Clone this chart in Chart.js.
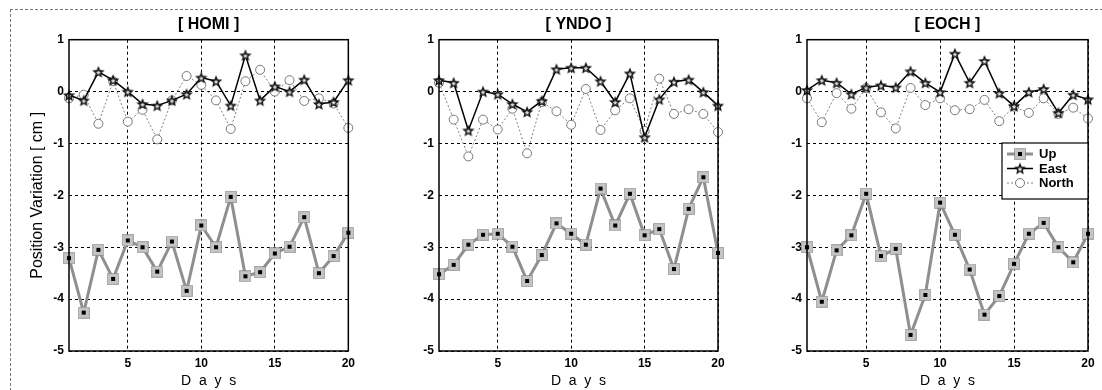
<!DOCTYPE html>
<html>
<head>
<meta charset="utf-8">
<script src="https://cdn.jsdelivr.net/npm/chart.js@4.4.0/dist/chart.umd.min.js"></script>
<style>
  body { margin: 0; background: #fff; }
  #frame { position: absolute; left: 10px; top: 9px; width: 1092px; height: 381px;
           border-top: 1px dashed #777; border-left: 1px dashed #777; }
  canvas { position: absolute; top: 0; }
</style>
</head>
<body>
<div id="frame"></div>
<canvas id="homi" width="360" height="390" style="left:0px"></canvas>
<canvas id="yndo" width="370" height="390" style="left:360px"></canvas>
<canvas id="eoch" width="372" height="390" style="left:730px"></canvas>
<script>
// Data
const days = [1, 2, 3, 4, 5, 6, 7, 8, 9, 10, 11, 12, 13, 14, 15, 16, 17, 18, 19, 20];
const dayTicks = [5, 10, 15, 20];
const seriesNames = ["Up", "East", "North"];

// ::::: HOMI :::::
const homiUp = [-3.21, -4.26, -3.05, -3.61, -2.87, -3.0, -3.47, -2.89, -3.84, -2.58, -3.0, -2.03, -3.56, -3.48, -3.12, -2.99, -2.42, -3.5, -3.17, -2.72];
const homiEast = [-0.07, -0.17, 0.38, 0.22, 0.0, -0.24, -0.27, -0.17, -0.05, 0.27, 0.2, -0.27, 0.7, -0.17, 0.1, 0.0, 0.23, -0.24, -0.2, 0.22];
const homiNorth = [-0.13, -0.06, -0.62, 0.2, -0.58, -0.35, -0.92, -0.17, 0.3, 0.13, -0.17, -0.72, 0.2, 0.42, 0.0, 0.22, -0.18, -0.13, -0.23, -0.7];

// ::::: YNDO :::::
const yndoUp = [-3.52, -3.34, -2.95, -2.76, -2.74, -2.99, -3.65, -3.15, -2.54, -2.74, -2.95, -1.87, -2.58, -1.97, -2.77, -2.65, -3.42, -2.26, -1.65, -3.11];
const yndoEast = [0.22, 0.17, -0.75, 0.0, -0.05, -0.24, -0.39, -0.18, 0.43, 0.46, 0.46, 0.2, -0.2, 0.35, -0.88, -0.15, 0.19, 0.23, -0.01, -0.27];
const yndoNorth = [0.17, -0.54, -1.25, -0.54, -0.73, -0.33, -1.19, -0.2, -0.38, -0.64, 0.05, -0.74, -0.36, -0.13, -0.76, 0.25, -0.43, -0.34, -0.43, -0.78];

// ::::: EOCH :::::
const eochUp = [-3.0, -4.05, -3.06, -2.77, -1.97, -3.17, -3.03, -4.69, -3.92, -2.14, -2.76, -3.43, -4.3, -3.94, -3.32, -2.74, -2.53, -3.0, -3.29, -2.74];
const eochEast = [0.03, 0.22, 0.17, -0.05, 0.08, 0.12, 0.08, 0.39, 0.17, -0.01, 0.73, 0.17, 0.59, -0.03, -0.28, -0.01, 0.05, -0.41, -0.06, -0.15];
const eochNorth = [-0.13, -0.59, -0.03, -0.33, 0.07, -0.4, -0.71, 0.07, -0.26, -0.13, -0.36, -0.34, -0.16, -0.57, -0.29, -0.41, -0.13, -0.43, -0.31, -0.52];

const FONT = "'Liberation Sans', Arial, sans-serif";


// THE MARKERS
function makeUpMarker() {
    const c = document.createElement("canvas");
    c.width = 12; c.height = 12;
    const g = c.getContext("2d");
    g.fillStyle = "#c4c4c4";
    g.fillRect(0.5, 0.5, 11, 11);
    g.strokeStyle = "#6e6e6e";
    g.setLineDash([1, 1]);
    g.strokeRect(0.5, 0.5, 11, 11);
    g.fillStyle = "#000";
    g.fillRect(4, 4, 4, 4);
    return c;
}

function starPath(g, cx, cy, outer, inner) {
    g.beginPath();
    for (let i = 0; i < 10; i++) {
        const r = i % 2 === 0 ? outer : inner;
        const a = -Math.PI / 2 + i * Math.PI / 5;
        g.lineTo(cx + r * Math.cos(a), cy + r * Math.sin(a));
    }
    g.closePath();
}

function makeStarMarker() {
    const c = document.createElement("canvas");
    c.width = 14; c.height = 14;
    const g = c.getContext("2d");
    starPath(g, 7, 7.5, 6.5, 2.9);
    g.fillStyle = "#111";
    g.fill();
    starPath(g, 7, 7.8, 2.6, 1.2);
    g.fillStyle = "#ddd";
    g.fill();
    return c;
}

const upMarker = makeUpMarker();
const starMarker = makeStarMarker();

// frame around the plot area (solid, like matlab axes box)
const boxPlugin = {
    id: "box",
    afterDraw(chart) {
        const a = chart.chartArea;
        const ctx = chart.ctx;
        ctx.save();
        ctx.strokeStyle = "#000";
        ctx.lineWidth = 1.5;
        ctx.strokeRect(a.left, a.top, a.right - a.left, a.bottom - a.top);
        ctx.restore();
    }
};

// legend drawn inside the EOCH axes
const insideLegend = {
    id: "insideLegend",
    afterDraw(chart) {
        const ctx = chart.ctx;
        const x = 272, y = 143, w = 86, h = 56;
        ctx.save();
        ctx.fillStyle = "#fff";
        ctx.fillRect(x, y, w, h);
        ctx.strokeStyle = "#000";
        ctx.lineWidth = 1.2;
        ctx.strokeRect(x, y, w, h);
        chart.data.datasets.forEach((ds, i) => {
            const ry = y + 11 + i * 14.5;
            ctx.strokeStyle = ds.borderColor;
            ctx.lineWidth = ds.borderWidth;
            ctx.setLineDash(ds.borderDash || []);
            ctx.beginPath();
            ctx.moveTo(x + 5, ry);
            ctx.lineTo(x + 31, ry);
            ctx.stroke();
            ctx.setLineDash([]);
            if (ds.pointStyle === "circle") {
                ctx.beginPath();
                ctx.arc(x + 18, ry, 4.5, 0, Math.PI * 2);
                ctx.fillStyle = "#fff";
                ctx.fill();
                ctx.strokeStyle = "#777";
                ctx.lineWidth = 1;
                ctx.stroke();
            } else {
                const img = ds.pointStyle;
                ctx.drawImage(img, x + 18 - img.width / 2, ry - img.height / 2);
            }
            ctx.fillStyle = "#000";
            ctx.font = "bold 13px " + FONT;
            ctx.textBaseline = "middle";
            ctx.fillText(ds.label, x + 37, ry + 0.5);
        });
        ctx.restore();
    }
};

function createPanel(canvasId, name, up, east, north, axisWidth, padRight, showYTitle, withLegend) {
    const canvas = document.getElementById(canvasId);
    return new Chart(canvas, {
        type: "line",
        data: {
            labels: days,
            datasets: [{
                label: seriesNames[0],
                data: up,
                clip: false,
                borderColor: "#8f8f8f",
                borderWidth: 3,
                pointStyle: upMarker,
                pointRadius: 6
            }, {
                label: seriesNames[1],
                data: east,
                clip: false,
                borderColor: "#000",
                borderWidth: 1.5,
                pointStyle: starMarker,
                pointRadius: 7
            }, {
                label: seriesNames[2],
                data: north,
                clip: false,
                borderColor: "#808080",
                borderWidth: 1,
                borderDash: [2, 2],
                pointStyle: "circle",
                pointRadius: 4.5,
                pointBackgroundColor: "#fff",
                pointBorderColor: "#777",
                pointBorderWidth: 1
            }]
        },
        options: {
            responsive: false,
            animation: false,
            parsing: false,
            layout: { padding: { left: 0, right: padRight, top: 0, bottom: 0 } },
            scales: {
                x: {
                    type: "linear",
                    min: 1,
                    max: 20,
                    afterBuildTicks: (scale) => { scale.ticks = dayTicks.map(v => ({ value: v })); },
                    afterFit: (scale) => { scale.height = 39; },
                    grid: { color: "#000", lineWidth: 1, drawTicks: false },
                    border: { display: false, dash: [3, 3] },
                    ticks: {
                        color: "#000",
                        padding: 5,
                        maxRotation: 0,
                        font: { family: FONT, size: 12, weight: "bold" }
                    },
                    title: {
                        display: true,
                        text: "D  a  y  s",
                        color: "#000",
                        padding: { top: 0, bottom: 0 },
                        font: { family: FONT, size: 14 }
                    }
                },
                y: {
                    min: -5,
                    max: 1,
                    afterFit: (scale) => { scale.width = axisWidth; },
                    grid: { color: "#000", lineWidth: 1, drawTicks: false },
                    border: { display: false, dash: [3, 3] },
                    ticks: {
                        stepSize: 1,
                        color: "#000",
                        padding: 5,
                        font: { family: FONT, size: 12, weight: "bold" }
                    },
                    title: {
                        display: showYTitle,
                        text: "Position Variation [ cm ]",
                        color: "#000",
                        padding: { top: 28, bottom: 0 },
                        font: { family: FONT, size: 16 }
                    }
                }
            },
            plugins: {
                legend: { display: false },
                tooltip: { enabled: false },
                title: {
                    display: true,
                    text: "[ " + name + " ]",
                    fullSize: false,
                    color: "#000",
                    padding: { top: 15, bottom: 5.5 },
                    font: { family: FONT, size: 16, weight: "bold" }
                }
            }
        },
        plugins: withLegend ? [boxPlugin, insideLegend] : [boxPlugin]
    });
}

function toPoints(values) {
    return values.map((v, i) => ({ x: days[i], y: v }));
}

createPanel("homi", "HOMI", toPoints(homiUp), toPoints(homiEast), toPoints(homiNorth), 69, 11, true, false);
createPanel("yndo", "YNDO", toPoints(yndoUp), toPoints(yndoEast), toPoints(yndoNorth), 79, 12, false, false);
createPanel("eoch", "EOCH", toPoints(eochUp), toPoints(eochEast), toPoints(eochNorth), 77, 14, false, true);
</script>
</body>
</html>
